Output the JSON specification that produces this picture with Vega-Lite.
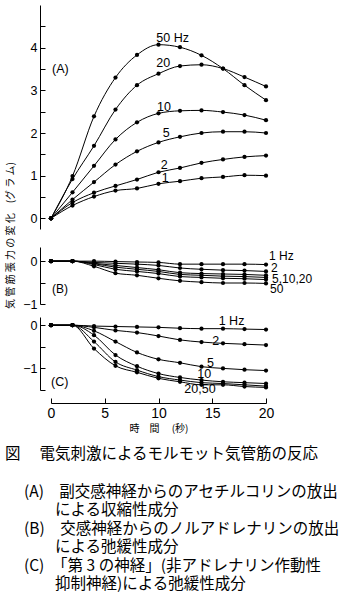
{
  "$schema": "https://vega.github.io/schema/vega-lite/v6.json",
  "padding": 5,
  "config": {
    "view": {"stroke": null},
    "axis": {"domainColor": "black", "tickColor": "black", "labelColor": "black", "titleColor": "black", "grid": false, "labelFont": "Liberation Sans", "labelFontSize": 12.5, "domainWidth": 1, "tickWidth": 1, "labelOverlap": false, "labelFlush": false, "labelBound": false}
  },
  "datasets": {
    "A": [
      {"f":"50","x":0,"y":0},{"f":"50","x":2,"y":0.99},{"f":"50","x":4,"y":2.39},{"f":"50","x":6,"y":3.30},{"f":"50","x":8,"y":3.83},{"f":"50","x":10,"y":4.07},{"f":"50","x":12,"y":4.01},{"f":"50","x":14,"y":3.82},{"f":"50","x":16,"y":3.51},{"f":"50","x":18,"y":3.12},{"f":"50","x":20,"y":2.77},
      {"f":"20","x":0,"y":0},{"f":"20","x":2,"y":0.92},{"f":"20","x":4,"y":1.70},{"f":"20","x":6,"y":2.55},{"f":"20","x":8,"y":3.12},{"f":"20","x":10,"y":3.39},{"f":"20","x":12,"y":3.57},{"f":"20","x":14,"y":3.60},{"f":"20","x":16,"y":3.51},{"f":"20","x":18,"y":3.31},{"f":"20","x":20,"y":3.09},
      {"f":"10","x":0,"y":0},{"f":"10","x":2,"y":0.61},{"f":"10","x":4,"y":1.23},{"f":"10","x":6,"y":1.85},{"f":"10","x":8,"y":2.25},{"f":"10","x":10,"y":2.46},{"f":"10","x":12,"y":2.52},{"f":"10","x":14,"y":2.53},{"f":"10","x":16,"y":2.49},{"f":"10","x":18,"y":2.42},{"f":"10","x":20,"y":2.30},
      {"f":"5","x":0,"y":0},{"f":"5","x":2,"y":0.44},{"f":"5","x":4,"y":0.85},{"f":"5","x":6,"y":1.26},{"f":"5","x":8,"y":1.57},{"f":"5","x":10,"y":1.78},{"f":"5","x":12,"y":1.91},{"f":"5","x":14,"y":2.00},{"f":"5","x":16,"y":2.03},{"f":"5","x":18,"y":2.03},{"f":"5","x":20,"y":2.00},
      {"f":"2","x":0,"y":0},{"f":"2","x":2,"y":0.37},{"f":"2","x":4,"y":0.60},{"f":"2","x":6,"y":0.76},{"f":"2","x":8,"y":0.91},{"f":"2","x":10,"y":1.08},{"f":"2","x":12,"y":1.18},{"f":"2","x":14,"y":1.30},{"f":"2","x":16,"y":1.38},{"f":"2","x":18,"y":1.44},{"f":"2","x":20,"y":1.47},
      {"f":"1","x":0,"y":0},{"f":"1","x":2,"y":0.30},{"f":"1","x":4,"y":0.51},{"f":"1","x":6,"y":0.65},{"f":"1","x":8,"y":0.70},{"f":"1","x":10,"y":0.81},{"f":"1","x":12,"y":0.87},{"f":"1","x":14,"y":0.94},{"f":"1","x":16,"y":0.97},{"f":"1","x":18,"y":1.01},{"f":"1","x":20,"y":1.00}
    ],
    "B": [
      {"f":"1","x":0,"y":0},{"f":"1","x":2,"y":0},{"f":"1","x":4,"y":0},{"f":"1","x":6,"y":-0.01},{"f":"1","x":8,"y":-0.02},{"f":"1","x":10,"y":-0.03},{"f":"1","x":12,"y":-0.07},{"f":"1","x":14,"y":-0.07},{"f":"1","x":16,"y":-0.07},{"f":"1","x":18,"y":-0.07},{"f":"1","x":20,"y":-0.08},
      {"f":"2","x":0,"y":0},{"f":"2","x":2,"y":0},{"f":"2","x":4,"y":-0.03},{"f":"2","x":6,"y":-0.05},{"f":"2","x":8,"y":-0.07},{"f":"2","x":10,"y":-0.10},{"f":"2","x":12,"y":-0.16},{"f":"2","x":14,"y":-0.19},{"f":"2","x":16,"y":-0.21},{"f":"2","x":18,"y":-0.22},{"f":"2","x":20,"y":-0.24},
      {"f":"5","x":0,"y":0},{"f":"5","x":2,"y":0},{"f":"5","x":4,"y":-0.05},{"f":"5","x":6,"y":-0.10},{"f":"5","x":8,"y":-0.15},{"f":"5","x":10,"y":-0.20},{"f":"5","x":12,"y":-0.27},{"f":"5","x":14,"y":-0.29},{"f":"5","x":16,"y":-0.30},{"f":"5","x":18,"y":-0.31},{"f":"5","x":20,"y":-0.33},
      {"f":"10","x":0,"y":0},{"f":"10","x":2,"y":0},{"f":"10","x":4,"y":-0.06},{"f":"10","x":6,"y":-0.14},{"f":"10","x":8,"y":-0.19},{"f":"10","x":10,"y":-0.24},{"f":"10","x":12,"y":-0.31},{"f":"10","x":14,"y":-0.33},{"f":"10","x":16,"y":-0.35},{"f":"10","x":18,"y":-0.36},{"f":"10","x":20,"y":-0.38},
      {"f":"20","x":0,"y":0},{"f":"20","x":2,"y":0},{"f":"20","x":4,"y":-0.08},{"f":"20","x":6,"y":-0.19},{"f":"20","x":8,"y":-0.24},{"f":"20","x":10,"y":-0.29},{"f":"20","x":12,"y":-0.36},{"f":"20","x":14,"y":-0.38},{"f":"20","x":16,"y":-0.40},{"f":"20","x":18,"y":-0.41},{"f":"20","x":20,"y":-0.43},
      {"f":"50","x":0,"y":0},{"f":"50","x":2,"y":0},{"f":"50","x":4,"y":-0.12},{"f":"50","x":6,"y":-0.28},{"f":"50","x":8,"y":-0.33},{"f":"50","x":10,"y":-0.40},{"f":"50","x":12,"y":-0.46},{"f":"50","x":14,"y":-0.49},{"f":"50","x":16,"y":-0.51},{"f":"50","x":18,"y":-0.51},{"f":"50","x":20,"y":-0.52}
    ],
    "C": [
      {"f":"1","x":0,"y":0},{"f":"1","x":2,"y":0},{"f":"1","x":4,"y":-0.02},{"f":"1","x":6,"y":-0.03},{"f":"1","x":8,"y":-0.04},{"f":"1","x":10,"y":-0.05},{"f":"1","x":12,"y":-0.07},{"f":"1","x":14,"y":-0.08},{"f":"1","x":16,"y":-0.08},{"f":"1","x":18,"y":-0.09},{"f":"1","x":20,"y":-0.10},
      {"f":"2","x":0,"y":0},{"f":"2","x":2,"y":0},{"f":"2","x":4,"y":-0.05},{"f":"2","x":6,"y":-0.12},{"f":"2","x":8,"y":-0.17},{"f":"2","x":10,"y":-0.25},{"f":"2","x":12,"y":-0.34},{"f":"2","x":14,"y":-0.39},{"f":"2","x":16,"y":-0.42},{"f":"2","x":18,"y":-0.44},{"f":"2","x":20,"y":-0.46},
      {"f":"5","x":0,"y":0},{"f":"5","x":2,"y":0},{"f":"5","x":4,"y":-0.13},{"f":"5","x":6,"y":-0.38},{"f":"5","x":8,"y":-0.63},{"f":"5","x":10,"y":-0.79},{"f":"5","x":12,"y":-0.87},{"f":"5","x":14,"y":-0.96},{"f":"5","x":16,"y":-1.00},{"f":"5","x":18,"y":-1.03},{"f":"5","x":20,"y":-1.05},
      {"f":"10","x":0,"y":0},{"f":"10","x":2,"y":0},{"f":"10","x":4,"y":-0.23},{"f":"10","x":6,"y":-0.69},{"f":"10","x":8,"y":-0.95},{"f":"10","x":10,"y":-1.12},{"f":"10","x":12,"y":-1.21},{"f":"10","x":14,"y":-1.27},{"f":"10","x":16,"y":-1.31},{"f":"10","x":18,"y":-1.33},{"f":"10","x":20,"y":-1.35},
      {"f":"20","x":0,"y":0},{"f":"20","x":2,"y":0},{"f":"20","x":4,"y":-0.38},{"f":"20","x":6,"y":-0.85},{"f":"20","x":8,"y":-1.04},{"f":"20","x":10,"y":-1.19},{"f":"20","x":12,"y":-1.27},{"f":"20","x":14,"y":-1.33},{"f":"20","x":16,"y":-1.35},{"f":"20","x":18,"y":-1.38},{"f":"20","x":20,"y":-1.41},
      {"f":"50","x":0,"y":0},{"f":"50","x":2,"y":0},{"f":"50","x":4,"y":-0.54},{"f":"50","x":6,"y":-0.94},{"f":"50","x":8,"y":-1.09},{"f":"50","x":10,"y":-1.23},{"f":"50","x":12,"y":-1.31},{"f":"50","x":14,"y":-1.38},{"f":"50","x":16,"y":-1.38},{"f":"50","x":18,"y":-1.42},{"f":"50","x":20,"y":-1.44}
    ],
    "LA": [
      {"t":"50 Hz","x":9.8,"y":4.23},{"t":"20","x":9.8,"y":3.64},{"t":"10","x":9.86,"y":2.62},{"t":"5","x":10.4,"y":1.99},{"t":"2","x":10.2,"y":1.26},{"t":"1","x":10.3,"y":0.95},{"t":"(A)","x":0.1,"y":3.49}
    ],
    "LB": [
      {"t":"1 Hz","x":20.28,"y":0.12},{"t":"2","x":20.47,"y":-0.16},{"t":"5,10,20","x":20.56,"y":-0.42},{"t":"50","x":20.37,"y":-0.66},{"t":"(B)","x":0.1,"y":-0.65}
    ],
    "LC": [
      {"t":"1 Hz","x":15.6,"y":0.09},{"t":"2","x":15.0,"y":-0.37},{"t":"5","x":14.5,"y":-0.87},{"t":"10","x":13.6,"y":-1.13},{"t":"20,50","x":12.4,"y":-1.48},{"t":"(C)","x":0,"y":-1.32}
    ]
  },
  "title": {
    "text": "図　 電気刺激によるモルモット気管筋の反応",
    "subtitle": [
      "\u200b　 (A)　副交感神経からのアセチルコリンの放出",
      "\u200b　　　  による収縮性成分",
      "\u200b　 (B)　交感神経からのノルアドレナリンの放出",
      "\u200b　　　  による弛緩性成分",
      "\u200b　 (C)　「第 3 の神経」(非アドレナリン作動性",
      "\u200b　　　  抑制神経)による弛緩性成分"
    ],
    "orient": "bottom",
    "anchor": "start",
    "frame": "bounds",
    "offset": 14,
    "font": "Noto Sans CJK JP",
    "fontSize": 15.5,
    "fontWeight": "normal",
    "color": "black",
    "subtitleFont": "Noto Sans CJK JP",
    "subtitleFontSize": 15.5,
    "subtitleColor": "black",
    "subtitleLineHeight": 18.5,
    "subtitlePadding": 22
  },
  "spacing": 18,
  "bounds": "flush",
  "vconcat": [
    {
      "width": 215,
      "height": 224,
      "encoding": {
        "x": {"field": "x", "type": "quantitative", "scale": {"domain": [0, 20], "nice": false}, "axis": null},
        "y": {"field": "y", "type": "quantitative", "scale": {"domain": [-0.25, 5], "nice": false, "zero": false},
          "axis": {"values": [0, 0.5, 1, 1.5, 2, 2.5, 3, 3.5, 4, 4.5], "labelExpr": "datum.value % 1 == 0 ? format(datum.value, 'd') : ''", "offset": 11, "tickSize": -5, "labelPadding": 8,
            "title": "気 管 筋 張 力 の 変 化　(グ ラ ム)", "titleFont": "Noto Sans CJK JP", "titleFontSize": 10, "titleFontWeight": "normal", "titleX": -30, "titleY": 230, "titleAlign": "center", "titleBaseline": "middle", "titleAngle": -90}}
      },
      "layer": [
        {"data": {"name": "A"}, "mark": {"type": "line", "interpolate": "monotone", "color": "black", "strokeWidth": 1}, "encoding": {"detail": {"field": "f"}}},
        {"data": {"name": "A"}, "mark": {"type": "point", "filled": true, "color": "black", "size": 18, "opacity": 1}},
        {"data": {"name": "LA"}, "mark": {"type": "text", "align": "left", "baseline": "middle", "font": "Liberation Sans", "fontSize": 12.5, "color": "black"}, "encoding": {"text": {"field": "t"}}}
      ]
    },
    {
      "spacing": 13,
      "bounds": "flush",
      "vconcat": [
        {
          "width": 215,
          "height": 57,
          "encoding": {
            "x": {"field": "x", "type": "quantitative", "scale": {"domain": [0, 20], "nice": false}, "axis": null},
            "y": {"field": "y", "type": "quantitative", "scale": {"domain": [-1, 0.33], "nice": false, "zero": false},
              "axis": {"values": [-1, -0.5, 0], "labelExpr": "datum.value % 1 == 0 ? format(datum.value, 'd') : ''", "offset": 11, "tickSize": -5, "labelPadding": 8, "title": null}}
          },
          "layer": [
            {"data": {"name": "B"}, "mark": {"type": "line", "interpolate": "monotone", "color": "black", "strokeWidth": 1}, "encoding": {"detail": {"field": "f"}}},
            {"data": {"name": "B"}, "mark": {"type": "point", "filled": true, "color": "black", "size": 18, "opacity": 1}},
            {"data": {"name": "LB"}, "mark": {"type": "text", "align": "left", "baseline": "middle", "font": "Liberation Sans", "fontSize": 12, "color": "black"}, "encoding": {"text": {"field": "t"}}}
          ]
        },
        {
          "width": 215,
          "height": 73,
          "encoding": {
            "x": {"field": "x", "type": "quantitative", "scale": {"domain": [0, 20], "nice": false},
              "axis": {"values": [0, 5, 10, 15, 20], "offset": 13, "tickSize": -5, "labelPadding": 8, "labelFontSize": 14,
                "title": "時　間　 (秒)", "titleFont": "Noto Sans CJK JP", "titleFontSize": 10, "titleFontWeight": "normal", "titlePadding": 3}},
            "y": {"field": "y", "type": "quantitative", "scale": {"domain": [-1.5, 0.19], "nice": false, "zero": false},
              "axis": {"values": [-1.5, -1, -0.5, 0], "labelExpr": "datum.value % 1 == 0 ? format(datum.value, 'd') : ''", "offset": 11, "tickSize": -5, "labelPadding": 8, "title": null}}
          },
          "layer": [
            {"data": {"name": "C"}, "mark": {"type": "line", "interpolate": "monotone", "color": "black", "strokeWidth": 1}, "encoding": {"detail": {"field": "f"}}},
            {"data": {"name": "C"}, "mark": {"type": "point", "filled": true, "color": "black", "size": 18, "opacity": 1}},
            {"data": {"name": "LC"}, "mark": {"type": "text", "align": "left", "baseline": "middle", "font": "Liberation Sans", "fontSize": 12.5, "color": "black"}, "encoding": {"text": {"field": "t"}}}
          ]
        }
      ]
    }
  ]
}
